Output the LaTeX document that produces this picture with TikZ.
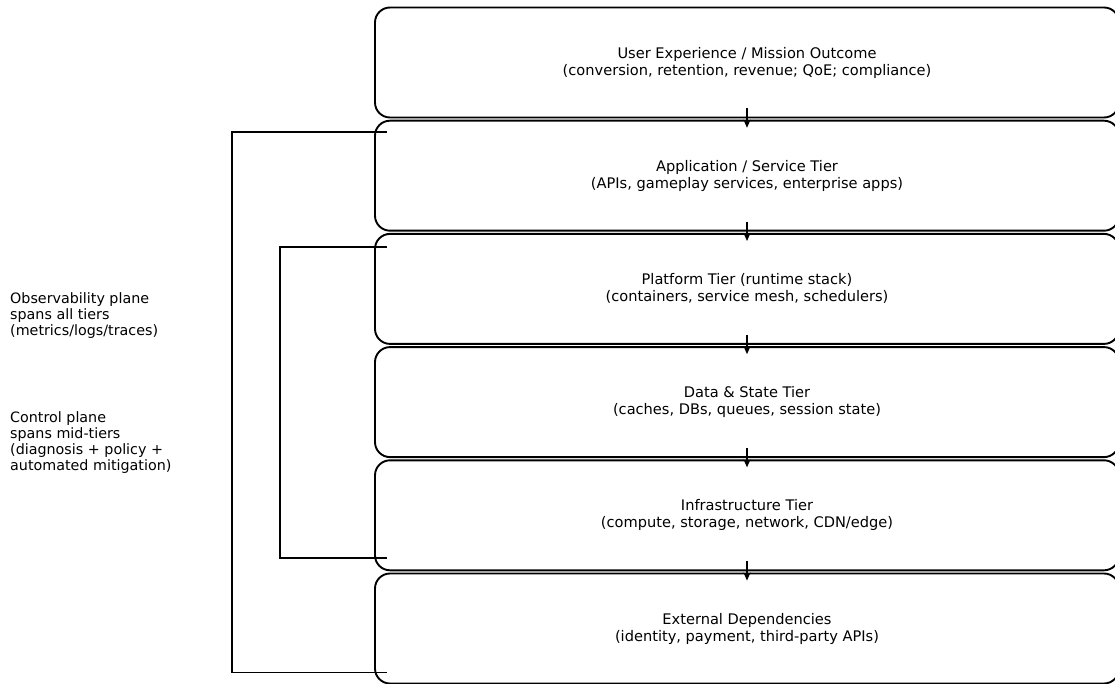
\documentclass[tikz,border=0pt]{standalone}
\usepackage{fontspec}
\setmainfont{DejaVu Sans}
\usetikzlibrary{arrows.meta,calc}
\begin{document}
\begin{tikzpicture}[x=1pt,y=-1pt,
  tier/.style={draw=black, line width=1.9pt, rounded corners=15pt, minimum width=744pt, minimum height=110pt, align=center, inner sep=0pt, font=\fontsize{14.6}{17}\selectfont},
  lab/.style={align=left, inner sep=0pt, anchor=west, font=\fontsize{14.3}{16}\selectfont},
  arr/.style={line width=1.6pt, -{Stealth[length=8pt,width=7pt]}},
  br/.style={line width=1.8pt}]
\useasboundingbox (0,0) rectangle (1115,684);
\fill[white] (0,0) rectangle (1115,684);
\node[tier] (t1) at (747,62.5) {User Experience / Mission Outcome\\(conversion, retention, revenue; QoE; compliance)};
\node[tier] (t2) at (747,175.7) {Application / Service Tier\\(APIs, gameplay services, enterprise apps)};
\node[tier] (t3) at (747,288.9) {Platform Tier (runtime stack)\\(containers, service mesh, schedulers)};
\node[tier] (t4) at (747,402.1) {Data \& State Tier\\(caches, DBs, queues, session state)};
\node[tier] (t5) at (747,515.3) {Infrastructure Tier\\(compute, storage, network, CDN/edge)};
\node[tier] (t6) at (747,628.5) {External Dependencies\\(identity, payment, third-party APIs)};
\foreach \a/\b in {t1/t2,t2/t3,t3/t4,t4/t5,t5/t6}
  \draw[arr] ([yshift=10pt]\a.south) -- ([yshift=-8pt]\b.north);
\node[lab] (obs) at (10,316) {Observability plane\\spans all tiers\\(metrics/logs/traces)};
\node[lab] (ctl) at (10,443) {Control plane\\spans mid-tiers\\(diagnosis + policy +\\automated mitigation)};
\coordinate (o1) at ([xshift=13pt,yshift=-12pt]t2.north west);
\coordinate (o2) at ([xshift=13pt,yshift=12pt]t6.south west);
\draw[br] (o1) -- ++(-155,0) |- (o2);
\coordinate (i1) at ([xshift=13pt,yshift=-14pt]t3.north west);
\coordinate (i2) at ([xshift=13pt,yshift=13pt]t5.south west);
\draw[br] (i1) -- ++(-107,0) |- (i2);
\end{tikzpicture}
\end{document}
